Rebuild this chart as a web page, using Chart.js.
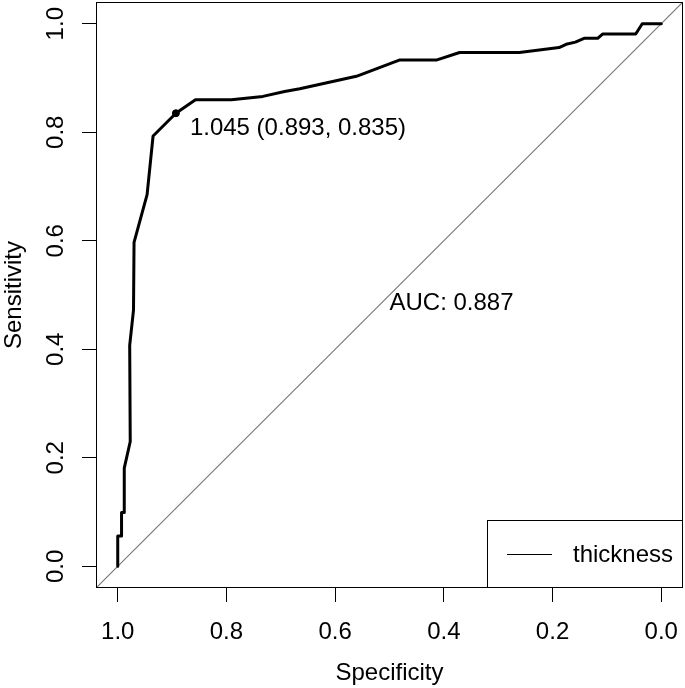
<!DOCTYPE html>
<html><head><meta charset="utf-8">
<script src="https://cdn.jsdelivr.net/npm/chart.js@4/dist/chart.umd.min.js"></script>
<style>html,body{margin:0;padding:0;background:#fff}</style>
</head><body>
<canvas id="c" width="685" height="688"></canvas>
<script>
// ROC curve (specificity, sensitivity)
const specificity = [1.000, 1.000, 0.993, 0.993, 0.988, 0.988, 0.977, 0.978, 0.971, 0.970, 0.946, 0.935, 0.893, 0.857, 0.791, 0.733, 0.693, 0.665, 0.561, 0.482, 0.414, 0.371, 0.261, 0.188, 0.175, 0.158, 0.142, 0.117, 0.108, 0.047, 0.035, 0.000];
const sensitivity = [0.000, 0.056, 0.056, 0.099, 0.099, 0.181, 0.230, 0.407, 0.472, 0.597, 0.685, 0.793, 0.835, 0.860, 0.860, 0.866, 0.875, 0.880, 0.903, 0.933, 0.933, 0.947, 0.947, 0.956, 0.962, 0.966, 0.973, 0.973, 0.981, 0.981, 1.000, 1.000];
const diagonalSpec = [1.04, -0.04];
const diagonalSens = [-0.04, 1.04];
const bestThreshold = [1.045];
const bestSpec = [0.893];
const bestSens = [0.835];
const aucValue = [0.887];
const tickValues = [0, 0.2, 0.4, 0.6, 0.8, 1.0];
const seriesLabel = 'thickness';
const xTitle = 'Specificity';
const yTitle = 'Sensitivity';

const FONT = "'Liberation Sans', Arial, Helvetica, sans-serif";
const FS = 24;

const rocPoints = specificity.map((s, i) => ({x: s, y: sensitivity[i]}));
const diagPoints = diagonalSpec.map((s, i) => ({x: s, y: diagonalSens[i]}));
const bestPoints = bestSpec.map((s, i) => ({x: s, y: bestSens[i]}));

const overlay = {
  id: 'overlay',
  afterDraw(chart) {
    const ctx = chart.ctx, a = chart.chartArea;
    const xs = chart.scales.x, ys = chart.scales.y;
    ctx.save();
    // box
    ctx.strokeStyle = '#000'; ctx.lineWidth = 1;
    ctx.strokeRect(Math.round(a.left) + 0.5, Math.round(a.top) + 0.5, Math.round(a.right - a.left) - 1, Math.round(a.bottom - a.top) - 1);
    ctx.fillStyle = '#000';
    ctx.font = FS + 'px ' + FONT;
    // y tick labels (rotated like R)
    tickValues.forEach(v => {
      const y = ys.getPixelForValue(v);
      ctx.save();
      ctx.translate(56, y);
      ctx.rotate(-Math.PI / 2);
      ctx.textAlign = 'center'; ctx.textBaseline = 'middle';
      ctx.fillText(v.toFixed(1), 0, 0);
      ctx.restore();
    });
    // best threshold annotation
    const px = xs.getPixelForValue(bestSpec[0]), py = ys.getPixelForValue(bestSens[0]);
    ctx.textAlign = 'left'; ctx.textBaseline = 'middle';
    ctx.fillText(bestThreshold[0].toFixed(3) + ' (' + bestSpec[0].toFixed(3) + ', ' + bestSens[0].toFixed(3) + ')', px + 14, py + 15);
    // AUC
    ctx.fillText('AUC: ' + aucValue[0].toFixed(3), xs.getPixelForValue(0.5), ys.getPixelForValue(0.5) + 8);
    // legend (bottom right)
    const lw = 196, lh = 68;
    const lx = Math.round(a.right) - lw, ly = Math.round(a.bottom) - lh;
    ctx.strokeStyle = '#000'; ctx.lineWidth = 1;
    ctx.strokeRect(lx + 0.5, ly + 0.5, lw - 1, lh - 1);
    const cy = ly + 34;
    ctx.beginPath(); ctx.moveTo(lx + 20, cy + 0.5); ctx.lineTo(lx + 65, cy + 0.5); ctx.stroke();
    ctx.fillText(seriesLabel, lx + 86, cy + 1);
    ctx.restore();
  }
};

new Chart(document.getElementById('c'), {
  type: 'scatter',
  data: {
    datasets: [
      {label: 'diag', data: diagPoints, showLine: true, borderColor: '#7a7a7a', borderWidth: 1.2, pointRadius: 0, order: 3},
      {label: seriesLabel, data: rocPoints, showLine: true, borderColor: '#000', borderWidth: 3, pointRadius: 0, borderJoinStyle: 'round', borderCapStyle: 'round', order: 2},
      {label: 'best', data: bestPoints, showLine: false, backgroundColor: '#000', borderColor: '#000', pointRadius: 3.5, order: 1}
    ]
  },
  options: {
    responsive: false,
    animation: false,
    devicePixelRatio: 1,
    layout: {autoPadding: false, padding: {left: 0, top: 2, right: 2, bottom: 0}},
    plugins: {legend: {display: false}, tooltip: {enabled: false}},
    scales: {
      x: {
        type: 'linear', reverse: true, min: -0.04, max: 1.04,
        afterBuildTicks: s => { s.ticks = tickValues.map(v => ({value: v})); },
        afterFit: s => { s.height = 100; s.paddingLeft = 0; s.paddingRight = 0; },
        grid: {display: true, drawOnChartArea: false, drawTicks: true, tickLength: 14, color: '#000', lineWidth: 1},
        border: {display: false},
        ticks: {color: '#000', font: {family: FONT, size: FS}, padding: 16, maxRotation: 0, callback: v => Number(v).toFixed(1)},
        title: {display: true, text: xTitle, color: '#000', font: {family: FONT, size: FS}, padding: {top: 0, bottom: 0}}
      },
      y: {
        type: 'linear', min: -0.04, max: 1.04,
        afterBuildTicks: s => { s.ticks = tickValues.map(v => ({value: v})); },
        afterFit: s => { s.width = 96; s.paddingTop = 0; s.paddingBottom = 0; },
        grid: {display: true, drawOnChartArea: false, drawTicks: true, tickLength: 14, color: '#000', lineWidth: 1},
        border: {display: false},
        ticks: {display: false},
        title: {display: true, text: yTitle, color: '#000', font: {family: FONT, size: FS}, padding: {top: 0, bottom: 0}}
      }
    }
  },
  plugins: [overlay]
});
</script>
</body></html>
